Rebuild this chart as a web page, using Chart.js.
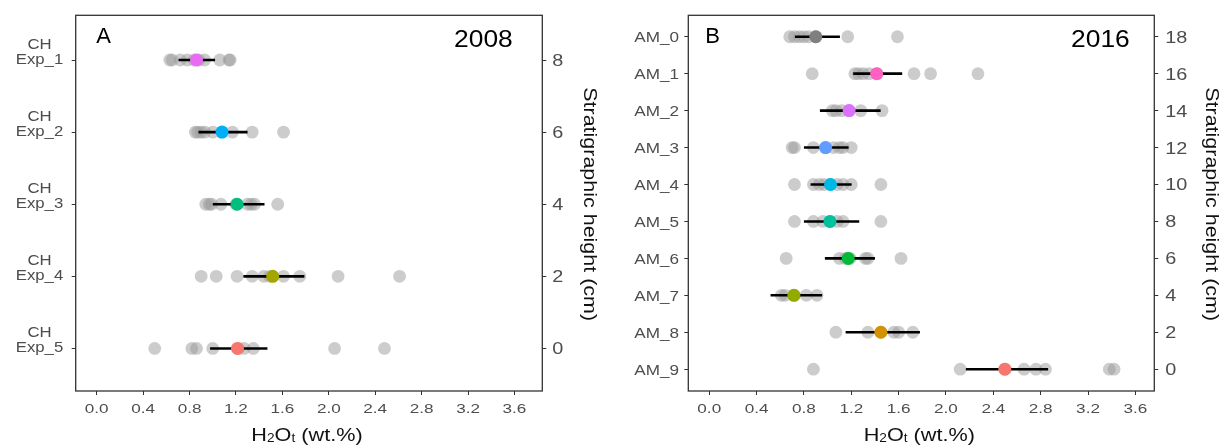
<!DOCTYPE html>
<html><head><meta charset="utf-8">
<script src="https://cdn.jsdelivr.net/npm/chart.js@4.4.1/dist/chart.umd.min.js"></script>
<style>
html,body{margin:0;padding:0;background:#fff;}
#wrap{position:relative;width:1221px;height:446px;overflow:hidden;background:#fff;}
canvas{position:absolute;top:0;}
</style></head><body>
<div id="wrap"><canvas id="c1" width="610" height="446" style="left:0"></canvas><canvas id="c2" width="611" height="446" style="left:610px"></canvas></div>
<script>
// ---------- data ----------
const xTickValues = [0, 0.4, 0.8, 1.2, 1.6, 2.0, 2.4, 2.8, 3.2, 3.6];
const xTickLabels = ['0.0','0.4','0.8','1.2','1.6','2.0','2.4','2.8','3.2','3.6'];

// Panel A (2008)
const expCategories = ['CH\nExp_1','CH\nExp_2','CH\nExp_3','CH\nExp_4','CH\nExp_5'];
const expHeights = [8, 6, 4, 2, 0];
const expRightTicks = [0, 2, 4, 6, 8];
const expPoints = [
  [0.63,0.65,0.72,0.78,0.84,0.88,0.93,1.06,1.14,1.15],
  [0.85,0.87,0.90,0.93,1.00,1.08,1.17,1.34,1.61],
  [0.94,0.97,0.99,1.07,1.20,1.30,1.33,1.36,1.56],
  [0.90,1.03,1.21,1.34,1.44,1.49,1.61,1.75,2.08,2.61],
  [0.50,0.82,0.86,1.00,1.22,1.27,1.35,2.05,2.48]
];
const expMeans = [0.86, 1.08, 1.21, 1.517, 1.213];
const expLow   = [0.705, 0.877, 1.00, 1.264, 0.977];
const expHigh  = [1.02, 1.30, 1.446, 1.79, 1.471];
const expColors = ['#E76BF3','#00B0F6','#00BF7D','#A3A500','#F8766D'];

// Panel B (2016)
const amCategories = ['AM_0','AM_1','AM_2','AM_3','AM_4','AM_5','AM_6','AM_7','AM_8','AM_9'];
const amHeights = [18, 16, 14, 12, 10, 8, 6, 4, 2, 0];
const amRightTicks = [0, 2, 4, 6, 8, 10, 12, 14, 16, 18];
const amPoints = [
  [0.68,0.72,0.76,0.80,0.84,0.90,1.17,1.59],
  [0.87,1.23,1.26,1.30,1.35,1.42,1.73,1.87,2.27],
  [1.04,1.07,1.12,1.18,1.28,1.46],
  [0.70,0.72,0.88,0.98,1.05,1.10,1.13,1.20],
  [0.72,0.88,0.93,0.97,1.02,1.08,1.13,1.20,1.45],
  [0.72,0.88,0.96,1.02,1.08,1.13,1.45],
  [0.65,1.10,1.15,1.19,1.32,1.34,1.62],
  [0.61,0.64,0.72,0.82,0.91],
  [1.07,1.34,1.45,1.56,1.60,1.72],
  [0.88,2.12,2.50,2.66,2.76,2.84,3.38,3.42]
];
const amMeans = [0.90, 1.414, 1.182, 0.983, 1.025, 1.02, 1.174, 0.715, 1.45, 2.497];
const amLow   = [0.724, 1.216, 0.935, 0.80, 0.856, 0.80, 0.977, 0.518, 1.152, 2.168];
const amHigh  = [1.104, 1.63, 1.448, 1.177, 1.203, 1.267, 1.40, 0.954, 1.78, 2.863];
const amColors = ['#7F7F7F','#FF61C3','#DB72FB','#619CFF','#00B9E3','#00C19F','#00BA38','#93AA00','#D39200','#F8766D'];

// ---------- drawing helpers ----------
const FONT = "'Liberation Sans', Arial, Helvetica, sans-serif";
const TICK_GRAY = '#4d4d4d';

function sText(ctx, txt, x, y, size, sx, align, color, rot) {
  ctx.save();
  ctx.translate(x, y);
  if (rot) ctx.rotate(rot);
  ctx.scale(sx, 1);
  ctx.font = size + 'px ' + FONT;
  ctx.fillStyle = color;
  ctx.textAlign = align;
  ctx.textBaseline = 'alphabetic';
  ctx.fillText(txt, 0, 0);
  ctx.restore();
}

function drawXTitle(ctx, cx, by) {
  const size = 19, sub = 12, sx = 1.14;
  const parts = [['H', false], ['2', true], ['O', false], ['t', true], [' (wt.%)', false]];
  let w = 0;
  ctx.save();
  parts.forEach(p => { ctx.font = (p[1] ? sub : size) + 'px ' + FONT; p.push(ctx.measureText(p[0]).width * sx); w += p[2]; });
  ctx.restore();
  let x = cx - w / 2;
  parts.forEach(p => {
    sText(ctx, p[0], x, by + (p[1] ? 1 : 0), p[1] ? sub : size, sx, 'left', '#111');
    x += p[2];
  });
}

function makeChart(id, p) {
  const datasets = [];
  datasets.push({
    type: 'scatter',
    data: p.heights.map((h, i) => ({x: p.means[i], y: h})),
    pointRadius: 6.5, pointHoverRadius: 6.5,
    pointBackgroundColor: p.colors, pointBorderWidth: 0, borderWidth: 0,
    order: 1
  });
  p.heights.forEach((h, i) => {
    datasets.push({
      type: 'line',
      data: [{x: p.low[i], y: h}, {x: p.high[i], y: h}],
      borderColor: '#000', borderWidth: 2.6, pointRadius: 0, pointHoverRadius: 0,
      fill: false, borderCapStyle: 'butt', order: 2
    });
  });
  const gray = [];
  p.heights.forEach((h, i) => p.points[i].forEach(v => gray.push({x: v, y: h})));
  datasets.push({
    type: 'scatter', data: gray,
    pointRadius: 6.4, pointHoverRadius: 6.4,
    pointBackgroundColor: 'rgba(153,153,153,0.5)', pointBorderWidth: 0, borderWidth: 0,
    order: 3
  });

  const gridOpt = {drawOnChartArea: false, drawTicks: true, tickLength: 4, color: '#333', lineWidth: 1};

  const labelPlugin = {
    id: 'labels' + id,
    afterDraw(chart) {
      const {ctx, chartArea: a, scales} = chart;
      ctx.save();
      ctx.strokeStyle = '#333';
      ctx.lineWidth = 1.3;
      ctx.strokeRect(a.left, a.top, a.right - a.left, a.bottom - a.top);
      ctx.restore();
      xTickValues.forEach((v, i) => {
        const px = scales.x.getPixelForValue(v);
        sText(ctx, xTickLabels[i], px, a.bottom + 22.3, 13.6, 1.26, 'center', TICK_GRAY);
      });
      p.categories.forEach((c, i) => {
        const py = scales.y.getPixelForValue(p.heights[i]);
        const lines = c.split('\n');
        ctx.save();
        ctx.font = p.catSize + 'px ' + FONT;
        const ws = lines.map(l => ctx.measureText(l).width * p.catSx);
        ctx.restore();
        const bw = Math.max(...ws);
        const rx = a.left - p.catGap;
        const cx = lines.length > 1 ? rx - bw / 2 : rx;
        const align = lines.length > 1 ? 'center' : 'right';
        lines.forEach((l, k) => {
          const by = py + p.catBase - (lines.length - 1 - k) * p.catLineH;
          sText(ctx, l, cx, by, p.catSize, p.catSx, align, TICK_GRAY);
        });
      });
      p.rightTicks.forEach(v => {
        const py = scales.y2.getPixelForValue(v);
        sText(ctx, String(v), a.right + p.rightGap, py + 6, 16, 1.24, 'left', TICK_GRAY);
      });
      sText(ctx, 'Stratigraphic height (cm)', a.right + p.rTitleOff, (a.top + a.bottom) / 2 + 1, 19, 1.13, 'center', '#111', Math.PI / 2);
      drawXTitle(ctx, (a.left + a.right) / 2 - 2, 441);
      sText(ctx, p.letter, a.left + p.letterOff, a.top + 27.5, 22, 1.0, 'left', '#000');
      sText(ctx, p.year, a.right - p.yearOff, a.top + 31.4, 24, 1.1, 'right', '#000');
    }
  };

  return new Chart(document.getElementById(id), {
    type: 'scatter',
    data: {datasets},
    options: {
      responsive: false,
      devicePixelRatio: 1,
      animation: false,
      events: [],
      layout: {padding: {top: 15.3, left: 0, right: 0, bottom: 0}, autoPadding: false},
      plugins: {legend: {display: false}, tooltip: {enabled: false}},
      scales: {
        x: {
          type: 'linear', position: 'bottom', min: p.xMin, max: p.xMax,
          afterBuildTicks: s => { s.ticks = xTickValues.map(v => ({value: v})); },
          afterFit: s => { s.height = 55; },
          ticks: {display: false}, grid: gridOpt, border: {display: false}
        },
        y: {
          type: 'linear', position: 'left', min: p.yMin, max: p.yMax,
          afterBuildTicks: s => { s.ticks = p.heights.map(v => ({value: v})); },
          afterFit: s => { s.width = p.leftW; },
          ticks: {display: false}, grid: gridOpt, border: {display: false}
        },
        y2: {
          type: 'linear', position: 'right', min: p.yMin, max: p.yMax,
          afterBuildTicks: s => { s.ticks = p.rightTicks.map(v => ({value: v})); },
          afterFit: s => { s.width = p.rightW; },
          ticks: {display: false}, grid: gridOpt, border: {display: false}
        }
      }
    },
    plugins: [labelPlugin]
  });
}

makeChart('c1', {
  categories: expCategories, heights: expHeights, rightTicks: expRightTicks,
  points: expPoints, means: expMeans, low: expLow, high: expHigh, colors: expColors,
  xMin: -0.181, xMax: 3.84, yMin: -1.18, yMax: 9.24,
  leftW: 75.7, rightW: 67.7,
  catSize: 15.5, catSx: 1.08, catGap: 12.5, catBase: 3.6, catLineH: 14.7,
  rightGap: 10, rTitleOff: 42, letter: 'A', letterOff: 20.5, year: '2008', yearOff: 29.5
});
makeChart('c2', {
  categories: amCategories, heights: amHeights, rightTicks: amRightTicks,
  points: amPoints, means: amMeans, low: amLow, high: amHigh, colors: amColors,
  xMin: -0.177, xMax: 3.76, yMin: -1.18, yMax: 19.16,
  leftW: 78.3, rightW: 66.7,
  catSize: 14.5, catSx: 1.18, catGap: 9.3, catBase: 5.4, catLineH: 14,
  rightGap: 11, rTitleOff: 52, letter: 'B', letterOff: 17, year: '2016', yearOff: 24.5
});
</script>
</body></html>
